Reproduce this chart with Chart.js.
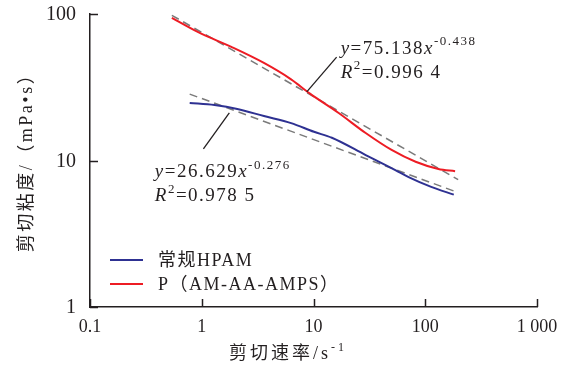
<!DOCTYPE html>
<html>
<head>
<meta charset="utf-8">
<script src="https://cdn.jsdelivr.net/npm/chart.js@4.4.1/dist/chart.umd.min.js"></script>
<style>
  html, body { margin: 0; padding: 0; background: #fff; }
  #wrap { width: 567px; height: 372px; }
</style>
</head>
<body>
<div id="wrap"><canvas id="chart" width="567" height="372"></canvas></div>
<script>
// --- data ---
const seriesNames = ['常规HPAM', 'P（AM-AA-AMPS）'];

const hpamRate = [0.78, 1.3, 2.08, 3.6, 6.3, 10.1, 14.6, 29.3, 54, 71, 113, 180];
const hpamVisc = [24.7, 23.9, 22.5, 20.1, 18.0, 15.7, 14.3, 10.9, 8.6, 7.7, 6.6, 5.85];

const copoRate = [0.54, 0.92, 1.84, 3.6, 6.3, 9.3, 16.8, 29.3, 50, 82, 131, 185];
const copoVisc = [94, 75.4, 59.6, 46.3, 35.8, 28.6, 21.1, 15.4, 11.8, 9.8, 8.75, 8.45];

// power-law fit lines, ends
const hpamFitRate = [0.78, 190];
const hpamFitVisc = [28.4, 6.1];
const copoFitRate = [0.54, 197];
const copoFitVisc = [98, 7.4];

const xTicks = [0.1, 1, 10, 100, 1000];
const xTickLabels = ['0.1', '1', '10', '100', '1 000'];
const yTicks = [1, 10, 100];
const yTickLabels = ['1', '10', '100'];

const TXT = '#231f20';
const BLUE = '#2e3192';
const RED = '#ed1c24';
const DASH = '#7a7a7a';
const LATIN = '"Liberation Serif", "Times New Roman", serif';
const MIXED = '"Liberation Serif", "Noto Sans CJK SC", serif';

function pts(xs, ys) {
    return xs.map((x, i) => ({ x: x, y: ys[i] }));
}

// draw a run of text pieces: {t, it (italic), sup (superscript)}
function drawRun(ctx, x, y, pieces, size) {
    let cx = x;
    pieces.forEach(p => {
        const fs = p.sup ? Math.round(size * 0.66) : size;
        ctx.font = (p.it ? 'italic ' : '') + fs + 'px ' + MIXED;
        const yy = p.sup ? y - size * 0.45 : y;
        ctx.fillText(p.t, cx, yy);
        cx += ctx.measureText(p.t).width;
    });
}

const annotations = [
    {   // P(AM-AA-AMPS) fit
        line: [[8.7, 29.4], [16.1, 50.8]],
        at: [17.5, 53.4],
        rows: [
            [{ t: 'y', it: true }, { t: '=75.138' }, { t: 'x', it: true }, { t: '-0.438', sup: true }],
            [{ t: 'R', it: true }, { t: '2', sup: true }, { t: '=0.996 4' }]
        ]
    },
    {   // HPAM fit
        line: [[1.035, 12.0], [1.765, 21.1]],
        at: [0.38, 7.7],
        rows: [
            [{ t: 'y', it: true }, { t: '=26.629' }, { t: 'x', it: true }, { t: '-0.276', sup: true }],
            [{ t: 'R', it: true }, { t: '2', sup: true }, { t: '=0.978 5' }]
        ]
    }
];

const decorPlugin = {
    id: 'decor',
    afterDatasetsDraw(chart) {
        const ctx = chart.ctx;
        const xs = chart.scales.x, ys = chart.scales.y;
        const area = chart.chartArea;
        ctx.save();

        // inward tick marks
        ctx.strokeStyle = TXT;
        ctx.lineWidth = 1.5;
        xTicks.forEach(v => {
            const px = Math.round(xs.getPixelForValue(v)) + 0.5;
            ctx.beginPath();
            ctx.moveTo(px, area.bottom);
            ctx.lineTo(px, area.bottom - 8);
            ctx.stroke();
        });
        yTicks.forEach(v => {
            const py = Math.round(ys.getPixelForValue(v)) + 0.5;
            ctx.beginPath();
            ctx.moveTo(area.left, py);
            ctx.lineTo(area.left + 8, py);
            ctx.stroke();
        });

        // y tick labels, set well off the axis like the reference
        ctx.fillStyle = TXT;
        ctx.font = '20px ' + LATIN;
        ctx.textAlign = 'right';
        ctx.textBaseline = 'middle';
        yTicks.forEach((v, i) => {
            ctx.fillText(yTickLabels[i], area.left - 14, ys.getPixelForValue(v) + 1);
        });

        // fit equations with leader lines
        ctx.textBaseline = 'alphabetic';
        ctx.textAlign = 'left';
        ctx.letterSpacing = '1.5px';
        annotations.forEach(a => {
            ctx.lineWidth = 1.3;
            ctx.beginPath();
            ctx.moveTo(xs.getPixelForValue(a.line[0][0]), ys.getPixelForValue(a.line[0][1]));
            ctx.lineTo(xs.getPixelForValue(a.line[1][0]), ys.getPixelForValue(a.line[1][1]));
            ctx.stroke();
            const tx = xs.getPixelForValue(a.at[0]);
            const ty = ys.getPixelForValue(a.at[1]);
            a.rows.forEach((row, i) => drawRun(ctx, tx, ty + i * 24, row, 19));
        });

        // legend
        ctx.letterSpacing = '1.5px';
        const legendColors = [BLUE, RED];
        seriesNames.forEach((name, i) => {
            const y = 260 + i * 24;
            ctx.strokeStyle = legendColors[i];
            ctx.lineWidth = 2;
            ctx.beginPath();
            ctx.moveTo(110, y);
            ctx.lineTo(143, y);
            ctx.stroke();
            ctx.font = '18px ' + MIXED;
            ctx.textBaseline = 'middle';
            ctx.fillText(name, 158, y + 1);
        });

        // axis titles
        ctx.textBaseline = 'alphabetic';
        ctx.letterSpacing = '3px';
        const xTitle = [{ t: '剪切速率/s' }, { t: '-1', sup: true }];
        drawRun(ctx, 229, 359, xTitle, 18);

        ctx.translate(32, 158);
        ctx.rotate(-Math.PI / 2);
        ctx.font = '18px ' + MIXED;
        ctx.letterSpacing = '2.5px';
        ctx.textAlign = 'center';
        ctx.fillText('剪切粘度/（mPa•s）', 0, 0);
        ctx.restore();
    }
};

new Chart(document.getElementById('chart'), {
    type: 'line',
    data: {
        datasets: [
            {
                label: seriesNames[0],
                data: pts(hpamRate, hpamVisc),
                borderColor: BLUE,
                borderWidth: 2,
                pointRadius: 0,
                cubicInterpolationMode: 'monotone'
            },
            {
                label: seriesNames[1],
                data: pts(copoRate, copoVisc),
                borderColor: RED,
                borderWidth: 2,
                pointRadius: 0,
                cubicInterpolationMode: 'monotone'
            },
            {
                label: 'fit1',
                data: pts(copoFitRate, copoFitVisc),
                borderColor: DASH,
                borderWidth: 1.5,
                borderDash: [8, 5],
                pointRadius: 0
            },
            {
                label: 'fit2',
                data: pts(hpamFitRate, hpamFitVisc),
                borderColor: DASH,
                borderWidth: 1.5,
                borderDash: [8, 5],
                pointRadius: 0
            }
        ]
    },
    options: {
        responsive: false,
        animation: false,
        layout: { padding: { top: 14, right: 30, left: 0, bottom: 0 } },
        plugins: { legend: { display: false }, tooltip: { enabled: false } },
        scales: {
            x: {
                type: 'logarithmic',
                min: 0.1,
                max: 1000,
                afterBuildTicks: s => { s.ticks = xTicks.map(v => ({ value: v })); },
                afterFit: s => { s.height = 65; },
                grid: { display: false, drawTicks: false },
                border: { display: true, color: TXT, width: 1.5 },
                ticks: {
                    autoSkip: false,
                    maxRotation: 0,
                    padding: 9,
                    color: TXT,
                    font: { family: LATIN, size: 18 },
                    callback: (v, i) => xTickLabels[i]
                }
            },
            y: {
                type: 'logarithmic',
                min: 1,
                max: 100,
                afterBuildTicks: s => { s.ticks = yTicks.map(v => ({ value: v })); },
                afterFit: s => { s.width = 90; },
                grid: { display: false, drawTicks: false },
                border: { display: true, color: TXT, width: 1.5 },
                ticks: {
                    display: false
                }
            }
        }
    },
    plugins: [decorPlugin]
});
</script>
</body>
</html>
